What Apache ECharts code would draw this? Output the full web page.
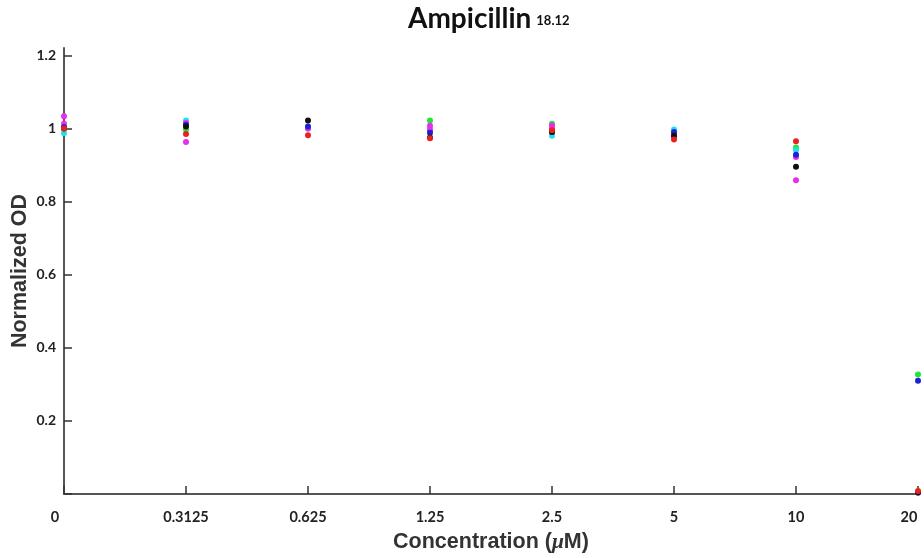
<!DOCTYPE html>
<html><head><meta charset="utf-8">
<script src="https://cdn.jsdelivr.net/npm/echarts@6/dist/echarts.min.js"></script>
<style>html,body{margin:0;padding:0;background:#fff;overflow:hidden}#c{width:924px;height:558px}</style>
</head><body><div id="c"></div>
<script>
const categories = ['0','0.3125','0.625','1.25','2.5','5','10','20'];
const redVals     = [1.000, 0.985, 0.981, 0.973, 0.995, 0.970, 0.965, 0.008];
const greenVals   = [1.000, 0.997, 1.000, 1.022, 1.013, 0.985, 0.948, 0.327];
const blueVals    = [1.003, 1.010, 1.005, 0.988, 0.990, 0.990, 0.928, 0.310];
const blackVals   = [1.000, 1.005, 1.022, 0.975, 0.990, 0.980, 0.895, 0.004];
const cyanVals    = [0.987, 1.022, 1.003, 1.000, 0.980, 0.997, 0.940, 0.004];
const magentaVals = [1.033, 1.015, 1.000, 1.007, 1.008, 0.985, 0.922, 0.004];
const magenta2Vals= [1.013, 0.963, 1.002, 0.995, 1.000, 0.978, 0.858, 0.004];
const yTicks = [0.2, 0.4, 0.6, 0.8, 1, 1.2];

const seriesDefs = [
  ['green', greenVals, '#22e53a'],
  ['cyan', cyanVals, '#22e0e8'],
  ['magenta', magentaVals, '#e82ee8'],
  ['magenta2', magenta2Vals, '#e82ee8'],
  ['blue', blueVals, '#1a22d8'],
  ['black', blackVals, '#111111'],
  ['red', redVals, '#e8231f']
];

const lastIdx = categories.length - 1;
const chart = echarts.init(document.getElementById('c'), null, {renderer:'canvas'});
chart.setOption({
  animation: false,
  backgroundColor: '#fff',
  title: {
    text: '{a|Ampicillin} {b|18.12}',
    left: 403, top: 0,
    textStyle: { rich: {
      a: { fontFamily: 'Lato', fontWeight: 'bold', fontSize: 28, color: '#111' },
      b: { fontFamily: 'Lato', fontWeight: 'bold', fontSize: 13, color: '#111', padding: [4,0,0,0] }
    }}
  },
  grid: { left: 64, right: 6, top: 48, bottom: 64, containLabel: false, outerBoundsMode: 'none' },
  xAxis: {
    type: 'category', data: categories, boundaryGap: false,
    name: 'Concentration ({i|μ}M)', nameLocation: 'middle', nameGap: 37,
    nameTextStyle: { fontFamily: 'Liberation Sans', fontWeight: 'bold', fontSize: 21.5, color: '#333',
      rich: { i: { fontFamily: 'Liberation Serif', fontStyle: 'italic', fontSize: 21.5, color: '#333' } } },
    axisLine: { lineStyle: { color: '#555', width: 2 } },
    axisTick: { inside: true, length: 8, lineStyle: { color: '#333', width: 1.5 } },
    axisLabel: { fontFamily: 'Lato', fontWeight: 'bold', fontSize: 14.5, color: '#222', margin: 16,
      formatter: (v, i) => (i === 0 || i === lastIdx) ? '{z|' + v + '}' : v,
      rich: { z: { fontFamily: 'Lato', fontWeight: 'bold', fontSize: 14.5, color: '#222', padding: [0, 18, 0, 0] } } },
    splitLine: { show: false }
  },
  yAxis: {
    type: 'value', min: 0, max: 1.22, interval: 0.2,
    name: 'Normalized OD', nameLocation: 'middle', nameGap: 33, nameMoveOverlap: false,
    nameTextStyle: { fontFamily: 'Liberation Sans', fontWeight: 'bold', fontSize: 21.5, color: '#333' },
    axisLine: { show: true, lineStyle: { color: '#555', width: 2 } },
    axisTick: { show: true, inside: true, length: 8, lineStyle: { color: '#333', width: 1.5 } },
    axisLabel: { fontFamily: 'Lato', fontWeight: 'bold', fontSize: 14, color: '#222', margin: 8,
      showMaxLabel: false,
      formatter: v => yTicks.some(t => Math.abs(t - v) < 1e-6) ? String(+v.toFixed(1)) : '' },
    splitLine: { show: false }
  },
  series: seriesDefs.map(([n, vals, col]) => ({
    name: n, type: 'scatter', data: vals, symbol: 'circle', symbolSize: 6,
    itemStyle: { color: col, opacity: 1 }, clip: false
  }))
});
</script></body></html>
